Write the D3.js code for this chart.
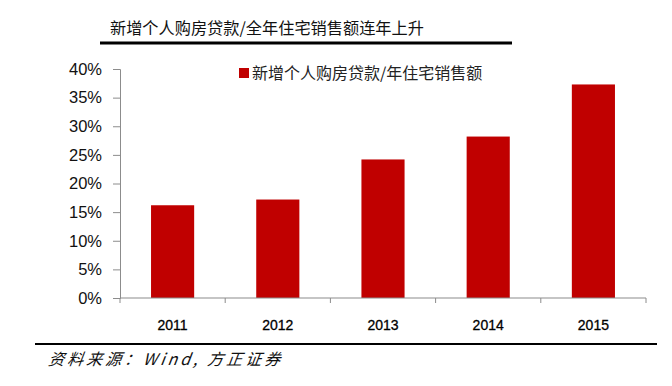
<!DOCTYPE html>
<html>
<head>
<meta charset="utf-8">
<script src="https://cdn.jsdelivr.net/npm/d3@7"></script>
<style>
  body { margin: 0; background: #fff; }
  svg { display: block; }
</style>
</head>
<body>
<script>
// data
var years = ["2011", "2012", "2013", "2014", "2015"];
var ratio = [16.2, 17.2, 24.2, 28.2, 37.3];
var yTicks = [0, 5, 10, 15, 20, 25, 30, 35, 40];
var titleText = "新增个人购房贷款/全年住宅销售额连年上升";
var legendText = "新增个人购房贷款/年住宅销售额";
var sourceText = "资料来源：Wind, 方正证券";

var svgWidth = 672;
var svgHeight = 386;

var margin = { top: 69, right: 26, bottom: 88, left: 120 };
var chartWidth = svgWidth - margin.left - margin.right;
var chartHeight = svgHeight - margin.top - margin.bottom;

var svg = d3.select("body")
    .append("svg")
    .attr("width", svgWidth)
    .attr("height", svgHeight);

// title + rules
svg.append("text")
    .attr("x", 110)
    .attr("y", 34)
    .attr("font-family", "Noto Sans CJK SC")
    .attr("font-size", 16.2)
    .attr("fill", "#111")
    .text(titleText);

svg.append("rect")
    .attr("x", 100).attr("y", 41.5)
    .attr("width", 412).attr("height", 3)
    .attr("fill", "#000");

svg.append("rect")
    .attr("x", 35).attr("y", 343)
    .attr("width", 622).attr("height", 2)
    .attr("fill", "#000");

// source note
svg.append("text")
    .attr("x", 48)
    .attr("y", 365)
    .attr("font-family", "Noto Sans CJK SC")
    .attr("font-style", "italic")
    .attr("font-size", 16)
    .attr("letter-spacing", 3)
    .attr("fill", "#111")
    .attr("transform", "skewX(-8) translate(51,0)")
    .text(sourceText);

var chartGroup = svg.append("g")
    .attr("transform", `translate(${margin.left},${margin.top})`);

var xBandScale = d3.scaleBand()
    .domain(years)
    .range([0, chartWidth])
    .paddingInner(0.59)
    .paddingOuter(0.295);

var yLinearScale = d3.scaleLinear()
    .domain([0, 40])
    .range([chartHeight, 0]);

// y axis
var leftAxis = d3.axisLeft(yLinearScale)
    .tickValues(yTicks)
    .tickSize(7)
    .tickPadding(11)
    .tickFormat(d => d + "%");

var yAxis = chartGroup.append("g").call(leftAxis);
yAxis.select(".domain").attr("stroke", "#8c8c8c");
yAxis.selectAll(".tick line").attr("stroke", "#8c8c8c");
yAxis.selectAll("text")
    .attr("font-family", "Liberation Sans")
    .attr("font-size", 16.5)
    .attr("fill", "#111");

// bars
chartGroup.selectAll(".bar")
    .data(ratio)
    .enter()
    .append("rect")
    .attr("class", "bar")
    .attr("x", (d, i) => xBandScale(years[i]))
    .attr("y", d => yLinearScale(d))
    .attr("width", xBandScale.bandwidth())
    .attr("height", d => chartHeight - yLinearScale(d))
    .attr("fill", "#c00000");

// x axis with ticks at category boundaries
var step = xBandScale.step();
var xAxisG = chartGroup.append("g")
    .attr("transform", `translate(0, ${chartHeight})`);

xAxisG.append("line")
    .attr("x1", 0).attr("x2", chartWidth)
    .attr("stroke", "#8c8c8c").attr("stroke-width", 1.2);

xAxisG.selectAll(".xtick")
    .data(d3.range(years.length + 1))
    .enter()
    .append("line")
    .attr("x1", i => i * step).attr("x2", i => i * step)
    .attr("y1", 0).attr("y2", 5)
    .attr("stroke", "#8c8c8c");

xAxisG.selectAll(".xlabel")
    .data(years)
    .enter()
    .append("text")
    .attr("x", d => xBandScale(d) + xBandScale.bandwidth() / 2)
    .attr("y", 32)
    .attr("text-anchor", "middle")
    .attr("font-family", "Liberation Sans")
    .attr("font-size", 14)
    .attr("stroke", "#000")
    .attr("stroke-width", 0.3)
    .attr("fill", "#000")
    .text(d => d);

// legend
var legend = svg.append("g").attr("transform", "translate(239, 68)");
legend.append("rect")
    .attr("width", 10).attr("height", 10)
    .attr("fill", "#c00000");
legend.append("text")
    .attr("x", 13).attr("y", 10.5)
    .attr("font-family", "Noto Sans CJK SC")
    .attr("font-size", 16)
    .attr("fill", "#222")
    .text(legendText);
</script>
</body>
</html>
